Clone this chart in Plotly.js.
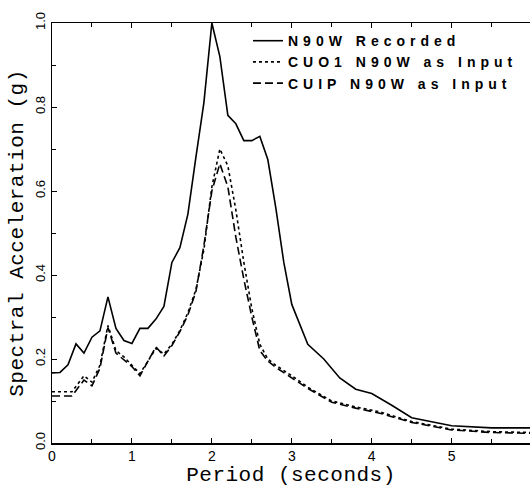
<!DOCTYPE html>
<html>
<head>
<meta charset="utf-8">
<script src="https://cdn.plot.ly/plotly-3.0.1.min.js"></script>
<style>
  html, body { margin: 0; padding: 0; background: #fff; }
  #chart { width: 530px; height: 487px; }
  .legendtext { letter-spacing: 5px; }
  .xtitle, .ytitle { letter-spacing: 0.5px; }
</style>
</head>
<body>
<div id="chart"></div>
<script>
// Recorded N90W
const recPeriod = [0, 0.1, 0.2, 0.3, 0.4, 0.5, 0.6, 0.7, 0.8, 0.9, 1.0, 1.1, 1.2, 1.3, 1.4, 1.5, 1.6, 1.7, 1.8, 1.9, 2.0, 2.1, 2.2, 2.3, 2.4, 2.5, 2.6, 2.7, 2.8, 2.9, 3.0, 3.2, 3.4, 3.6, 3.8, 4.0, 4.25, 4.5, 5.0, 5.5, 6.0];
const recSA = [0.167, 0.168, 0.186, 0.236, 0.214, 0.252, 0.267, 0.348, 0.273, 0.244, 0.237, 0.273, 0.273, 0.295, 0.325, 0.43, 0.465, 0.545, 0.68, 0.81, 1.0, 0.92, 0.78, 0.76, 0.72, 0.72, 0.73, 0.675, 0.56, 0.43, 0.33, 0.235, 0.2, 0.155, 0.128, 0.118, 0.09, 0.06, 0.041, 0.036, 0.036];

// CUO1 N90W as input (dotted)
const cuo1Period = [0, 0.25, 0.4, 0.5, 0.6, 0.7, 0.8, 0.9, 1.0, 1.1, 1.3, 1.4, 1.5, 1.6, 1.7, 1.8, 1.9, 2.0, 2.1, 2.2, 2.3, 2.4, 2.5, 2.6, 2.7, 2.8, 3.0, 3.2, 3.5, 3.8, 4.1, 4.5, 5.0, 5.5, 6.0];
const cuo1SA = [0.122, 0.122, 0.16, 0.145, 0.185, 0.28, 0.22, 0.205, 0.185, 0.165, 0.225, 0.212, 0.235, 0.268, 0.31, 0.365, 0.46, 0.61, 0.70, 0.66, 0.555, 0.43, 0.32, 0.235, 0.20, 0.185, 0.16, 0.133, 0.10, 0.086, 0.074, 0.051, 0.033, 0.027, 0.025];

// CUIP N90W as input (dashed)
const cuipPeriod = [0, 0.25, 0.4, 0.5, 0.6, 0.7, 0.8, 0.9, 1.0, 1.1, 1.3, 1.4, 1.5, 1.6, 1.7, 1.8, 1.9, 2.0, 2.1, 2.2, 2.3, 2.4, 2.5, 2.6, 2.7, 2.8, 3.0, 3.2, 3.5, 3.8, 4.1, 4.5, 5.0, 5.5, 6.0];
const cuipSA = [0.112, 0.112, 0.15, 0.136, 0.178, 0.275, 0.214, 0.198, 0.182, 0.16, 0.229, 0.207, 0.232, 0.265, 0.305, 0.36, 0.47, 0.60, 0.665, 0.61, 0.49, 0.39, 0.30, 0.22, 0.195, 0.18, 0.155, 0.13, 0.097, 0.083, 0.071, 0.049, 0.031, 0.025, 0.023];

const seriesNames = ['N90W Recorded', 'CUO1 N90W as Input', 'CUIP N90W as Input'];
const xTickVals = [0, 1, 2, 3, 4, 5];
const yTickVals = [0, 0.2, 0.4, 0.6, 0.8, 1.0];

const traces = [
  { x: recPeriod, y: recSA, name: seriesNames[0], mode: 'lines', line: { color: '#000', width: 1.6, dash: 'solid' } },
  { x: cuo1Period, y: cuo1SA, name: seriesNames[1], mode: 'lines', line: { color: '#000', width: 1.6, dash: 'dot' } },
  { x: cuipPeriod, y: cuipSA, name: seriesNames[2], mode: 'lines', line: { color: '#000', width: 1.6, dash: '8px,4px' } }
];

const layout = {
  width: 530, height: 487,
  margin: { l: 52, r: 0, t: 23, b: 44, autoexpand: false },
  paper_bgcolor: '#fff', plot_bgcolor: '#fff',
  showlegend: true,
  legend: {
    x: 0.41, y: 0.995, xanchor: 'left', yanchor: 'top',
    bgcolor: 'rgba(0,0,0,0)', borderwidth: 0,
    font: { family: 'Liberation Sans', size: 14, color: '#000', weight: 600 },
    tracegroupgap: 0
  },
  xaxis: {
    range: [0, 5.98], autorange: false,
    tickvals: xTickVals, ticktext: xTickVals.map(String),
    ticks: 'inside', ticklen: 5, tickwidth: 1, tickcolor: '#000',
    minor: { dtick: 0.5, tick0: 0, ticks: 'inside', ticklen: 4, tickcolor: '#000' },
    showline: true, linecolor: '#000', linewidth: 1.5, mirror: 'ticks',
    showgrid: false, zeroline: false,
    tickfont: { family: 'Liberation Sans', size: 14, color: '#000' },
    title: { text: 'Period (seconds)', font: { family: 'Liberation Mono', size: 21, color: '#000' }, standoff: 9 },
    automargin: false
  },
  yaxis: {
    range: [0, 1.0], autorange: false,
    tickvals: yTickVals, tickformat: '.1f',
    ticks: 'inside', ticklen: 5, tickwidth: 1, tickcolor: '#000',
    minor: { dtick: 0.1, tick0: 0, ticks: 'inside', ticklen: 4, tickcolor: '#000' },
    showline: true, linecolor: '#000', linewidth: 1.5, mirror: false,
    showgrid: false, zeroline: false,
    tickangle: -90,
    tickfont: { family: 'Liberation Sans', size: 13, color: '#000' },
    title: { text: 'Spectral Acceleration (g)', font: { family: 'Liberation Mono', size: 21, color: '#000' }, standoff: 4 },
    automargin: false
  }
};

Plotly.newPlot('chart', traces, layout, { displayModeBar: false, staticPlot: true });
</script>
</body>
</html>
